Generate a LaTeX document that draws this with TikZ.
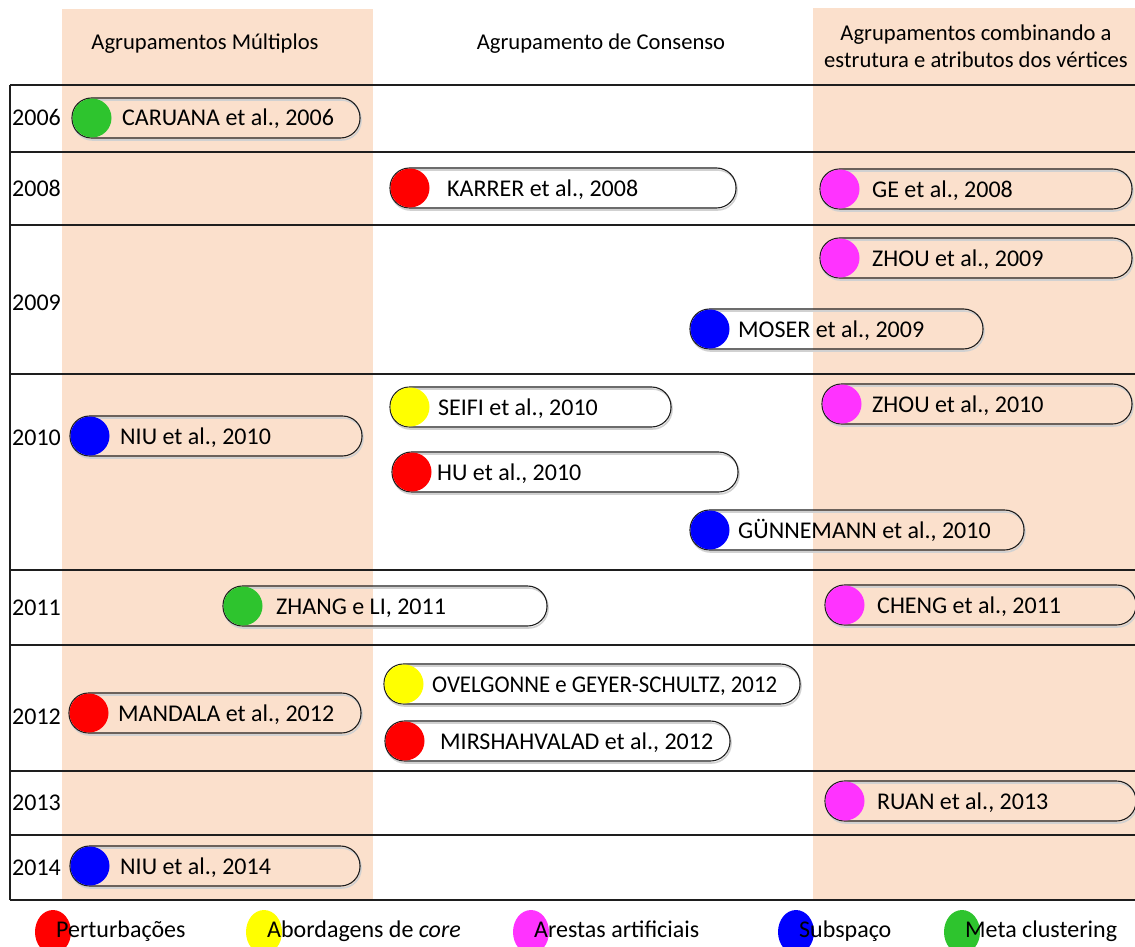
\documentclass[tikz,border=0pt]{standalone}
\usepackage{fontspec}
\setmainfont{Carlito}
\definecolor{peach}{RGB}{251,224,204}
\definecolor{rule}{RGB}{30,30,30}
\definecolor{cgreen}{RGB}{46,196,46}
\definecolor{cred}{RGB}{255,0,0}
\definecolor{cyellow}{RGB}{255,255,0}
\definecolor{cmagenta}{RGB}{255,51,255}
\definecolor{cblue}{RGB}{0,0,255}
\usetikzlibrary{shapes.geometric}
\tikzset{
  pill/.style={draw=rule, line width=1.1pt, rounded corners=19.5pt,
    minimum height=40pt, inner sep=0pt},
  pillshade/.style={draw=black!18, line width=1.6pt, rounded corners=19.5pt,
    minimum height=40pt, inner sep=0pt},
  dot/.style={circle, minimum size=39pt, inner sep=0pt},
  entry/.style={inner sep=0pt, anchor=base west, font=\fontsize{24}{28}\selectfont},
  yearlbl/.style={inner sep=0pt, anchor=base west, font=\fontsize{24}{28}\selectfont},
  head/.style={inner sep=0pt, font=\fontsize{22.6}{26}\selectfont, align=center},
  rowline/.style={draw=rule, line width=1.4pt},
  keydot/.style={ellipse, minimum width=36pt, minimum height=44pt, inner sep=0pt},
  keytxt/.style={inner sep=0pt, anchor=base west, font=\fontsize{24}{28}\selectfont},
}
% \pill{name}{left}{right}{y}{text x}{colour}{text}
\newcommand\pill[7]{%
  \node[pillshade, minimum width={(#3-#2)*1pt}] (#1-sh) at ({(#2+#3)/2+1},{#4+2}) {};
  \node[pill, minimum width={(#3-#2)*1pt}] (#1) at ({(#2+#3)/2},#4) {};
  \node[dot, fill=#6] (#1-dot) at ({#2+20},#4) {};
  \node[entry] (#1-txt) at (#5,{#4+8}) {#7};
}
\begin{document}
\begin{tikzpicture}[x=1pt, y=-1pt]
\useasboundingbox (0,0) rectangle (1135,947);
\fill[white] (0,0) rectangle (1135,947);

% shaded category columns
\fill[peach] (62,9) rectangle (373,900);
\fill[peach] (813,8) rectangle (1135,900);

% column headings
\node[head] (h1) at (205,44) {Agrupamentos Múltiplos};
\node[head] (h2) at (601,44) {Agrupamento de Consenso};
\node[head] (h3a) at (976,35) {Agrupamentos combinando a};
\node[head] (h3b) at (976,60) {estrutura e atributos dos vértices};

% year rows
\foreach \yy in {85,152,225,374,570,645,771,835,900}
  \draw[rowline] (10,\yy) -- (1135,\yy);
\draw[rowline] (10,85) -- (10,900);

\node[yearlbl] (y2006) at (12,126) {2006};
\node[yearlbl] (y2008) at (12,196) {2008};
\node[yearlbl] (y2009) at (12,310) {2009};
\node[yearlbl] (y2010) at (12,445) {2010};
\node[yearlbl] (y2011) at (12,615) {2011};
\node[yearlbl] (y2012) at (12,724) {2012};
\node[yearlbl] (y2013) at (12,810) {2013};
\node[yearlbl] (y2014) at (12,875) {2014};

% publications
\pill{caruana}{72}{360}{118}{122}{cgreen}{CARUANA et al., 2006}
\pill{karrer}{390}{736}{188}{447}{cred}{KARRER et al., 2008}
\pill{ge}{820}{1132}{189}{872}{cmagenta}{GE et al., 2008}
\pill{zhouA}{820}{1132}{258}{872}{cmagenta}{ZHOU et al., 2009}
\pill{moser}{690}{983}{329}{738}{cblue}{MOSER et al., 2009}
\pill{seifi}{390}{671}{407}{438}{cyellow}{SEIFI et al., 2010}
\pill{zhouB}{822}{1132}{404}{872}{cmagenta}{ZHOU et al., 2010}
\pill{niuA}{70}{362}{436}{120}{cblue}{NIU et al., 2010}
\pill{hu}{392}{738}{472}{437}{cred}{HU et al., 2010}
\pill{gunnemann}{690}{1024}{530}{738}{cblue}{GÜNNEMANN et al., 2010}
\pill{zhang}{223}{547}{606}{276}{cgreen}{ZHANG e LI, 2011}
\pill{cheng}{825}{1136}{605}{877}{cmagenta}{CHENG et al., 2011}
\pill{ovelgonne}{384}{800}{684}{432}{cyellow}{\scalebox{0.95}[1]{OVELGONNE e GEYER-SCHULTZ, 2012}}
\pill{mandala}{69}{361}{713}{118}{cred}{MANDALA et al., 2012}
\pill{mirsh}{385}{730}{741}{440}{cred}{MIRSHAHVALAD et al., 2012}
\pill{ruan}{825}{1136}{801}{877}{cmagenta}{RUAN et al., 2013}
\pill{niuB}{70}{360}{866}{120}{cblue}{NIU et al., 2014}

% legend
\node[keydot, fill=cred] (k1) at (53,932) {};
\node[keytxt] (k1t) at (56,937) {Perturbações};
\node[keydot, fill=cyellow] (k2) at (264,932) {};
\node[keytxt] (k2t) at (267,937) {Abordagens de \textit{core}};
\node[keydot, fill=cmagenta] (k3) at (531,932) {};
\node[keytxt] (k3t) at (534,937) {Arestas artificiais};
\node[keydot, fill=cblue] (k4) at (796,932) {};
\node[keytxt] (k4t) at (799,937) {Subspaço};
\node[keydot, fill=cgreen] (k5) at (962,932) {};
\node[keytxt] (k5t) at (965,937) {Meta clustering};
\end{tikzpicture}
\end{document}
